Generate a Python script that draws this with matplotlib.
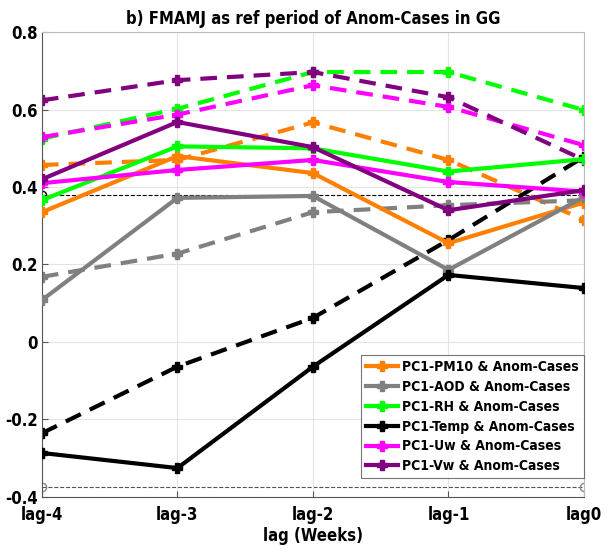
import numpy as np
import matplotlib
matplotlib.use("Agg")
import matplotlib.pyplot as plt

plt.rcParams['font.family'] = ['DejaVu Sans']
plt.rcParams['font.stretch'] = 'condensed'
plt.rcParams['font.weight'] = 'bold'

lags = ['lag-4', 'lag-3', 'lag-2', 'lag-1', 'lag0']

# solid lines
pm10 = [0.335, 0.48, 0.436, 0.255, 0.36]
aod = [0.108, 0.372, 0.377, 0.186, 0.374]
rh = [0.366, 0.505, 0.50, 0.44, 0.472]
temp = [-0.287, -0.326, -0.064, 0.173, 0.139]
uw = [0.41, 0.444, 0.47, 0.413, 0.388]
vw = [0.42, 0.568, 0.503, 0.34, 0.392]

# dashed lines
pm10_d = [0.457, 0.47, 0.567, 0.47, 0.315]
aod_d = [0.168, 0.228, 0.335, 0.353, 0.366]
rh_d = [0.525, 0.602, 0.697, 0.697, 0.599]
temp_d = [-0.236, -0.064, 0.062, 0.263, 0.478]
uw_d = [0.529, 0.587, 0.663, 0.607, 0.508]
vw_d = [0.624, 0.676, 0.697, 0.632, 0.47]

sig = 0.38

names = ['PC1-PM10 & Anom-Cases', 'PC1-AOD & Anom-Cases', 'PC1-RH & Anom-Cases',
         'PC1-Temp & Anom-Cases', 'PC1-Uw & Anom-Cases', 'PC1-Vw & Anom-Cases']
colors = ['#ff8000', '#808080', '#00ff00', '#000000', '#ff00ff', '#800080']
solid = [pm10, aod, rh, temp, uw, vw]
dashed = [pm10_d, aod_d, rh_d, temp_d, uw_d, vw_d]

fig = plt.figure(figsize=(6.16, 5.55), dpi=100)
ax = fig.add_axes([0.068, 0.105, 0.88, 0.837])
x = np.arange(len(lags))

ax.plot([x[0], x[-1]], [sig, sig], '--', color='k', lw=0.8, marker='o',
        mfc='none', ms=6, markevery=[0], zorder=1)
ax.plot([x[0], x[-1]], [-sig + 0.004, -sig + 0.004], '--', color='#555555', lw=0.8,
        marker='o', mfc='none', mec='#888888', ms=6, zorder=1)

for i in range(6):
    ax.plot(x, dashed[i], '--', color=colors[i], lw=3, dashes=(4, 2.4),
            marker='P', ms=6.5, zorder=2)
for i in range(6):
    ax.plot(x, solid[i], '-', color=colors[i], lw=3, marker='P', ms=6.5,
            label=names[i], zorder=3)

ax.set_xlim(0, 4)
ax.set_ylim(-0.4, 0.8)
ax.set_xticks(x)
ax.set_xticklabels(lags)
ax.set_yticks([-0.4, -0.2, 0, 0.2, 0.4, 0.6, 0.8])
ax.set_yticklabels(['-0.4', '-0.2', '0', '0.2', '0.4', '0.6', '0.8'])
ax.tick_params(labelsize=12, length=4, direction='in', color='#555555')
ax.tick_params(axis='x', pad=7)
ax.tick_params(axis='y', pad=3)
ax.grid(True, color='#e4e4e4', lw=0.8)
for s in ax.spines.values():
    s.set_color('#555555')
ax.spines['top'].set_color('#bbbbbb')
ax.spines['right'].set_color('#bbbbbb')

ax.set_xlabel('lag (Weeks)', fontsize=12, fontweight='bold', labelpad=2)
ax.set_title('b) FMAMJ as ref period of Anom-Cases in GG', fontsize=12,
             fontweight='bold', pad=6)

leg = ax.legend(loc='lower right', fontsize=10, frameon=True, fancybox=False,
                edgecolor='#555555', handlelength=2.3, borderpad=0.35,
                labelspacing=0.42, handletextpad=0.3, borderaxespad=0,
                bbox_to_anchor=(1.0, 0.04))
leg.get_frame().set_linewidth(0.8)

fig.savefig('out.png', dpi=100)
